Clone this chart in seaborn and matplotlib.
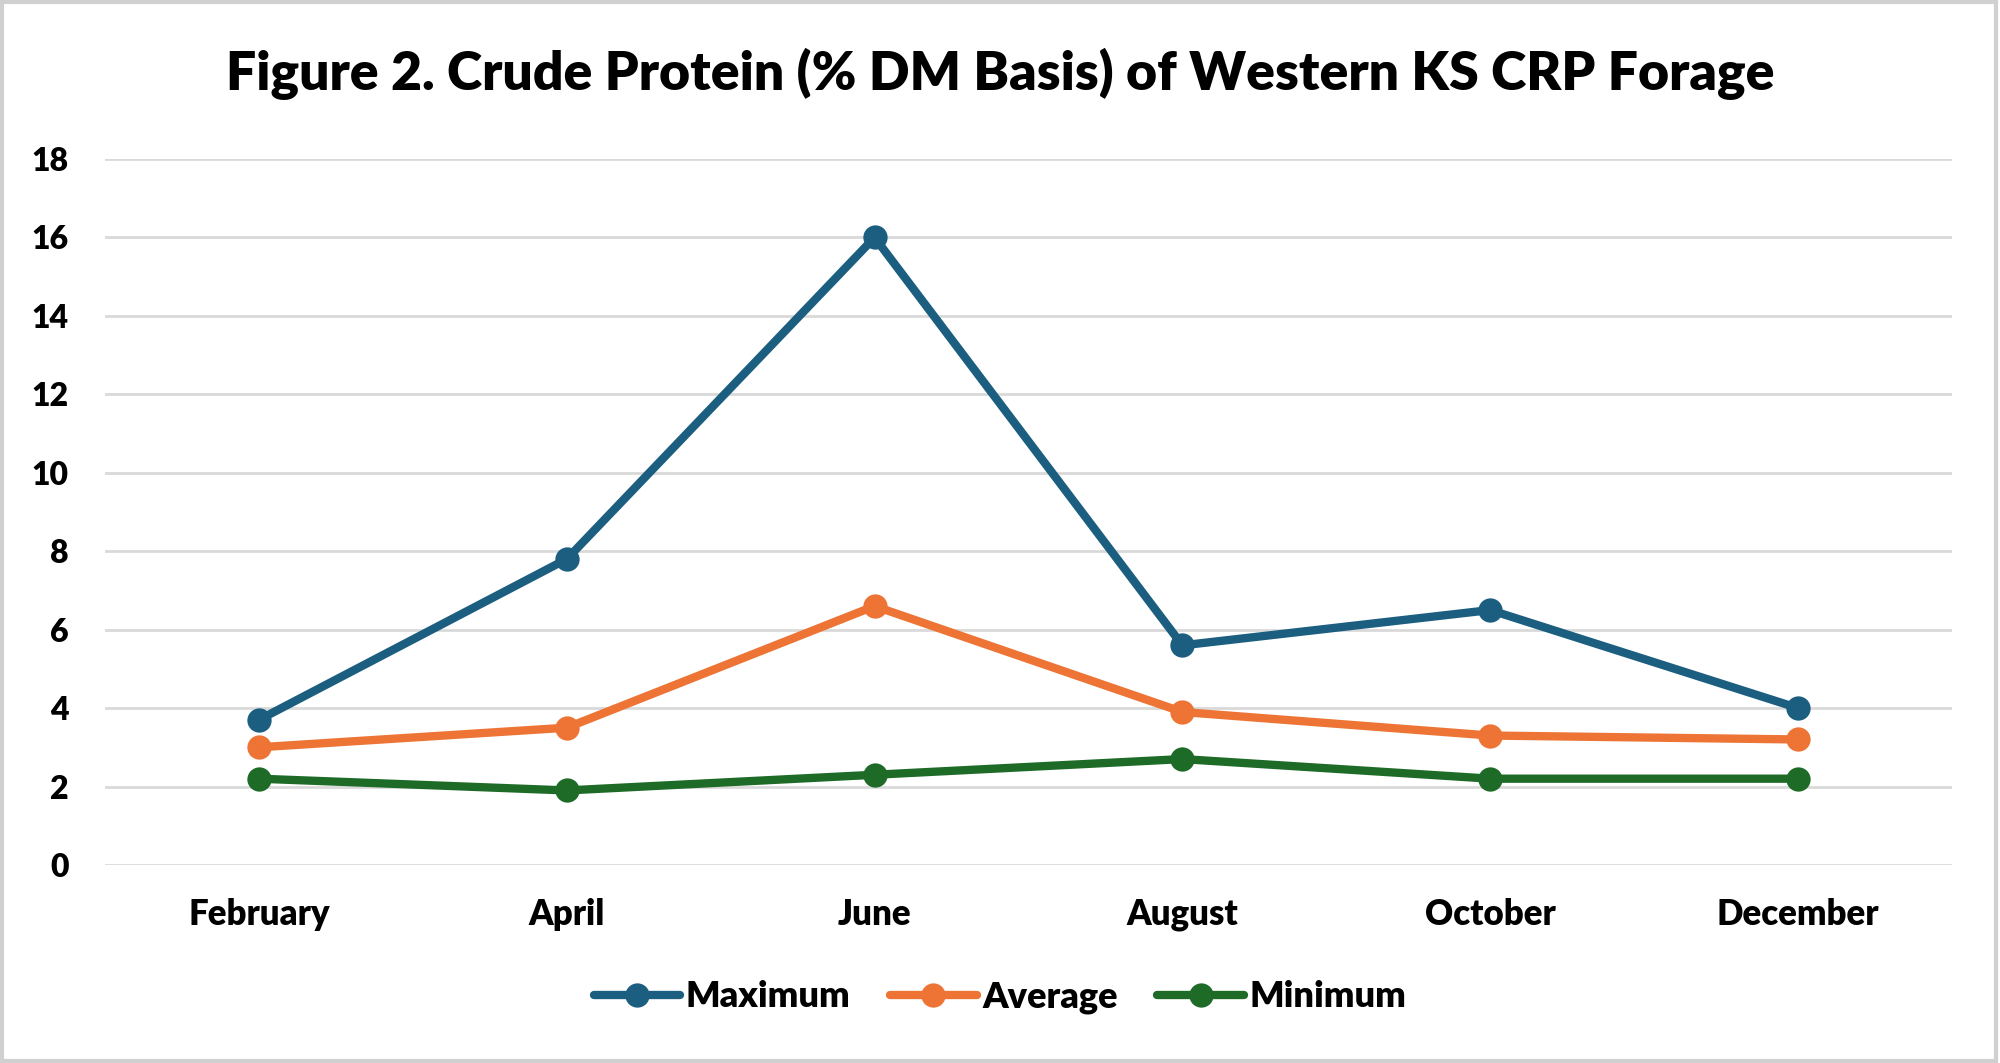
import pandas as pd
import matplotlib
matplotlib.use("Agg")
import matplotlib.pyplot as plt
import seaborn as sns
from matplotlib.patches import Rectangle

# data
months = ["February", "April", "June", "August", "October", "December"]
maximum = [3.7, 7.8, 16.0, 5.6, 6.5, 4.0]
average = [3.0, 3.5, 6.6, 3.9, 3.3, 3.2]
minimum = [2.2, 1.9, 2.3, 2.7, 2.2, 2.2]
series_names = ["Maximum", "Average", "Minimum"]
colors = ["#1b5e80", "#ed7435", "#1e6b28"]

df = pd.DataFrame({
    "Month": months * 3,
    "Value": maximum + average + minimum,
    "Series": [s for s in series_names for _ in months],
})

sns.set_style("white")
plt.rcParams["font.family"] = ["Lato", "DejaVu Sans"]
plt.rcParams["text.color"] = "black"
plt.rcParams["xtick.color"] = "black"
plt.rcParams["ytick.color"] = "black"
W = "heavy"

fig = plt.figure(figsize=(20, 10.63), dpi=100)
ax = fig.add_axes([0.0525, 0.1863, 0.9235, 0.6641])

sns.lineplot(
    data=df, x="Month", y="Value", hue="Series",
    palette=dict(zip(series_names, colors)),
    marker="o", markersize=17.5, linewidth=6, markeredgewidth=0,
    sort=False, ax=ax,
)

ax.set_xlim(-0.5, 5.5)
ax.set_ylim(0, 18)
ax.set_yticks(range(0, 19, 2))
ax.yaxis.grid(True, color="#d9d9d9", linewidth=2)
ax.set_axisbelow(True)
for s in ax.spines.values():
    s.set_visible(False)
ax.tick_params(axis="both", length=0)
ax.tick_params(axis="y", pad=26, labelsize=23)
ax.tick_params(axis="x", pad=24, labelsize=25)
for lab in ax.get_xticklabels() + ax.get_yticklabels():
    lab.set_fontweight(W)
ax.set_xlabel("")
ax.set_ylabel("")

fig.suptitle("Figure 2. Crude Protein (% DM Basis) of Western KS CRP Forage",
             x=0.5, y=0.93, va="center", fontsize=38.5, fontweight=W)

handles, labels = ax.get_legend_handles_labels()
ax.get_legend().remove()
fig.legend(handles, labels, loc="center", bbox_to_anchor=(0.5, 0.062), ncol=3,
           frameon=False, handlelength=2.4, columnspacing=1.1,
           handletextpad=0.15, prop={"weight": W, "size": 26})

fig.patches.append(Rectangle((0.001, 0.002), 0.997, 0.996, transform=fig.transFigure,
                             fill=False, edgecolor="#d0d0d0", linewidth=3))

fig.savefig("out.png", dpi=100)
